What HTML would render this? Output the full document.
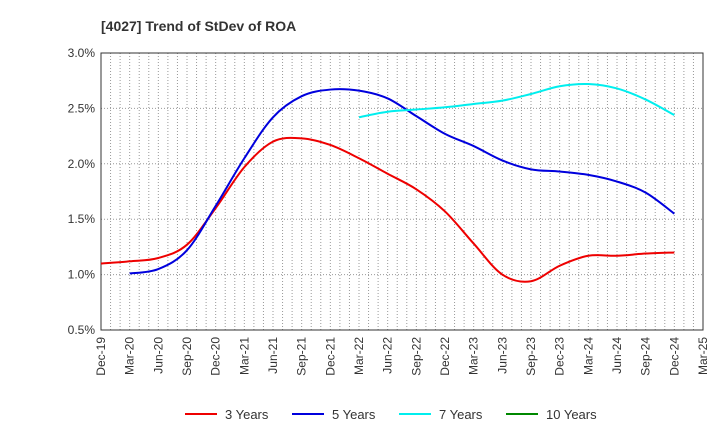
<!DOCTYPE html>
<html><head><meta charset="utf-8"><style>
body{margin:0;background:#fff;font-family:"Liberation Sans",sans-serif}
</style></head><body>
<svg id="c" width="720" height="440" xmlns="http://www.w3.org/2000/svg" font-family="Liberation Sans, sans-serif">
<text x="101" y="31" font-size="14" font-weight="bold" fill="#333">[4027]  Trend of StDev of ROA</text>
<g id="grid"></g><g id="axes"></g><g id="series"></g><g id="legend"></g>
</svg>
<script>
const xLabels=["Dec-19","Mar-20","Jun-20","Sep-20","Dec-20","Mar-21","Jun-21","Sep-21","Dec-21","Mar-22","Jun-22","Sep-22","Dec-22","Mar-23","Jun-23","Sep-23","Dec-23","Mar-24","Jun-24","Sep-24","Dec-24","Mar-25"];
const yTicks=[0.5,1.0,1.5,2.0,2.5,3.0];
const s3=[1.10,1.12,1.15,1.27,1.60,1.97,2.20,2.23,2.17,2.05,1.91,1.77,1.57,1.28,1.00,0.94,1.08,1.17,1.17,1.19,1.20];
const s5=[null,1.01,1.05,1.22,1.62,2.05,2.42,2.61,2.67,2.66,2.59,2.43,2.27,2.16,2.03,1.95,1.93,1.90,1.84,1.74,1.55];
const s7=[null,null,null,null,null,null,null,null,null,2.42,2.47,2.49,2.51,2.54,2.57,2.63,2.70,2.72,2.68,2.58,2.44];
const s10=[];
const L=101,R=703,T=53,B=330,NS="http://www.w3.org/2000/svg";
const xq=i=>L+(R-L)*i/21, ym=v=>B-(v-0.5)/2.5*(B-T);
function mk(t,a,p){const e=document.createElementNS(NS,t);for(const k in a)e.setAttribute(k,a[k]);p.appendChild(e);return e;}
const g=document.getElementById('grid');
for(let m=1;m<63;m++){const x=L+(R-L)*m/63;const l=mk('line',{x1:x,x2:x,y1:T,y2:B,stroke:'#999','stroke-dasharray':'1,2'},g);
}
const ax=document.getElementById('axes');
yTicks.forEach(v=>{const y=ym(v);
if(v>0.5&&v<3){const l=mk('line',{x1:L,x2:R,y1:y,y2:y,stroke:'#999','stroke-dasharray':'1,2'},g);}
const t=mk('text',{x:L-6,y:y+4,'text-anchor':'end','font-size':12,fill:'#333'},ax);t.textContent=v.toFixed(1)+'%';
});
xLabels.forEach((s,i)=>{const x=xq(i);const t=mk('text',{transform:`translate(${x+4},${B+7}) rotate(-90)`,'text-anchor':'end','font-size':12,fill:'#333'},ax);t.textContent=s;
});
const f=mk('rect',{x:L,y:T,width:R-L,height:B-T,fill:'none',stroke:'#333'},ax);

function path(arr){const p=[];arr.forEach((v,i)=>{if(v!=null)p.push([xq(i),ym(v)]);});if(p.length<2)return'';
let d=`M${p[0][0]},${p[0][1]}`;for(let i=0;i<p.length-1;i++){const p0=p[i-1]||p[i],p1=p[i],p2=p[i+1],p3=p[i+2]||p2;
d+=`C${p1[0]+(p2[0]-p0[0])/6},${p1[1]+(p2[1]-p0[1])/6} ${p2[0]-(p3[0]-p1[0])/6},${p2[1]-(p3[1]-p1[1])/6} ${p2[0]},${p2[1]}`;}return d;}
const sg=document.getElementById('series');
[[s3,'#e00','series-3-years'],[s5,'#00d','series-5-years'],[s7,'#0ee','series-7-years'],[s10,'#080','series-10-years']].forEach(([a,c,n])=>{
const d=path(a);if(!d)return;const e=mk('path',{d:d,fill:'none',stroke:c,'stroke-width':2},sg);
});
const lg=document.getElementById('legend');
[['3 Years','#e00',185],['5 Years','#00d',292],['7 Years','#0ee',399],['10 Years','#080',506]].forEach(([s,c,x])=>{
const gg=mk('g',{},lg);
mk('line',{x1:x,x2:x+32,y1:414,y2:414,stroke:c,'stroke-width':2},gg);
const t=mk('text',{x:x+40,y:419,'font-size':13,fill:'#333'},gg);t.textContent=s;});
</script>
</body></html>
